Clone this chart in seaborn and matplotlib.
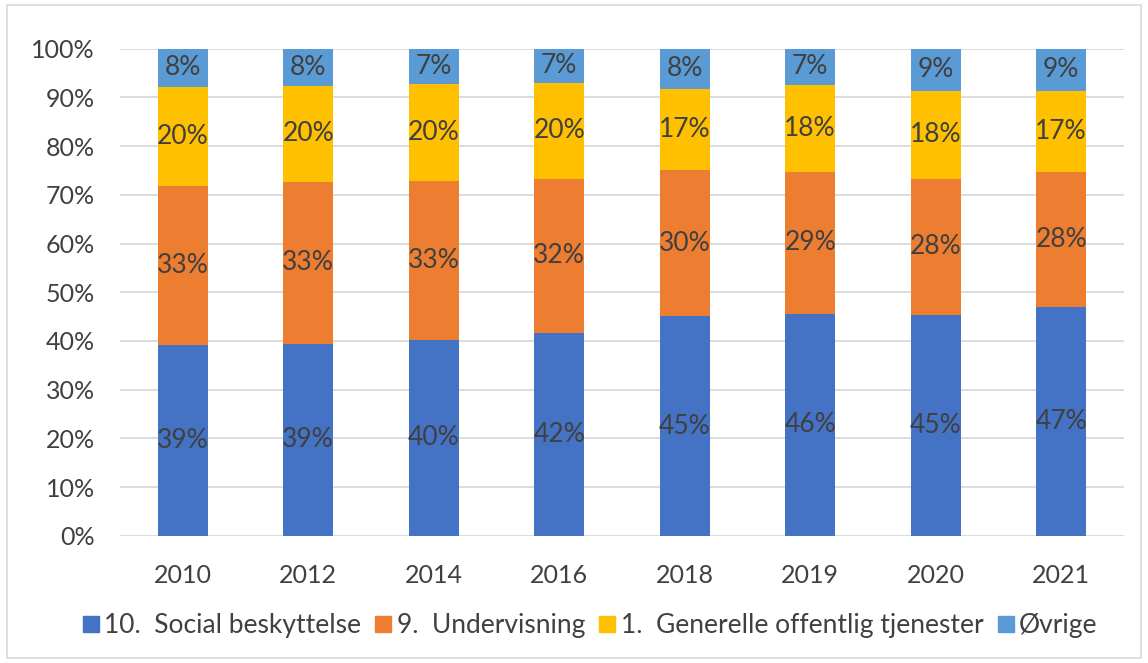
import matplotlib
matplotlib.use("Agg")
import matplotlib.pyplot as plt
import matplotlib.patches as mpatches
import numpy as np
import pandas as pd
import seaborn as sns

# Share of public expenditure by function (percent)
years = ["2010", "2012", "2014", "2016", "2018", "2019", "2020", "2021"]
social = [39.2, 39.4, 40.3, 41.6, 45.1, 45.6, 45.3, 46.9]
education = [32.6, 33.3, 32.6, 31.7, 30.0, 29.1, 28.0, 27.8]
general = [20.3, 19.6, 19.9, 19.6, 16.7, 17.9, 18.0, 16.6]
other = [7.9, 7.7, 7.2, 7.1, 8.2, 7.4, 8.7, 8.7]

series_names = ["10.  Social beskyttelse", "9.  Undervisning",
                "1.  Generelle offentlig tjenester", "Øvrige"]
series_values = [social, education, general, other]
colors = ["#4472C4", "#ED7D31", "#FFC000", "#5B9BD5"]
ytick_labels = ["0%", "10%", "20%", "30%", "40%", "50%", "60%", "70%", "80%", "90%", "100%"]

sns.set_theme(style="white")
plt.rcParams["font.family"] = ["Lato", "DejaVu Sans"]
text_color = "#404040"

fig = plt.figure(figsize=(11.48, 6.63), dpi=100)
ax = fig.add_axes([0.1045, 0.1916, 0.8745, 0.7352])

# Cumulative stacks, drawn from the tallest down so each layer shows its own band
values = np.array(series_values)
cum = np.cumsum(values, axis=0)
df = pd.DataFrame({"year": years})
for i in range(len(series_names) - 1, -1, -1):
    df["top"] = cum[i]
    sns.barplot(data=df, x="year", y="top", order=years, color=colors[i],
                width=0.4, saturation=1, edgecolor="none", ax=ax, zorder=3)

# Segment labels centred in each band
for i in range(len(series_names)):
    bottoms = cum[i] - values[i]
    for j in range(len(years)):
        ax.text(j, bottoms[j] + values[i][j] / 2, f"{round(values[i][j]):d}%",
                ha="center", va="center", fontsize=19, color=text_color, zorder=5)

ax.set_ylim(0, 100)
ax.set_xlim(-0.5, len(years) - 0.5)
ax.set_yticks(np.arange(0, 101, 10))
ax.set_yticklabels(ytick_labels)
ax.yaxis.grid(True, color="#d9d9d9", linewidth=1.3, zorder=0)
ax.set_axisbelow(True)
ax.set_xlabel("")
ax.set_ylabel("")
for s in ax.spines.values():
    s.set_visible(False)
ax.tick_params(axis="both", length=0, labelsize=18, colors=text_color)
ax.tick_params(axis="x", pad=20)
ax.tick_params(axis="y", pad=18)

handles = [mpatches.Patch(color=c, label=n) for c, n in zip(colors, series_names)]
fig.legend(handles=handles, loc="center", bbox_to_anchor=(0.514, 0.056), ncol=4,
           frameon=False, fontsize=19, handlelength=0.6, handleheight=0.6,
           handletextpad=0.2, columnspacing=0.55, labelcolor=text_color)

# Chart area border
fig.patches.append(mpatches.Rectangle((0.006, 0.008), 0.988, 0.984, transform=fig.transFigure,
                                      fill=False, edgecolor="#d9d9d9", linewidth=1.2))

fig.savefig("out.png", dpi=100, facecolor="white")
